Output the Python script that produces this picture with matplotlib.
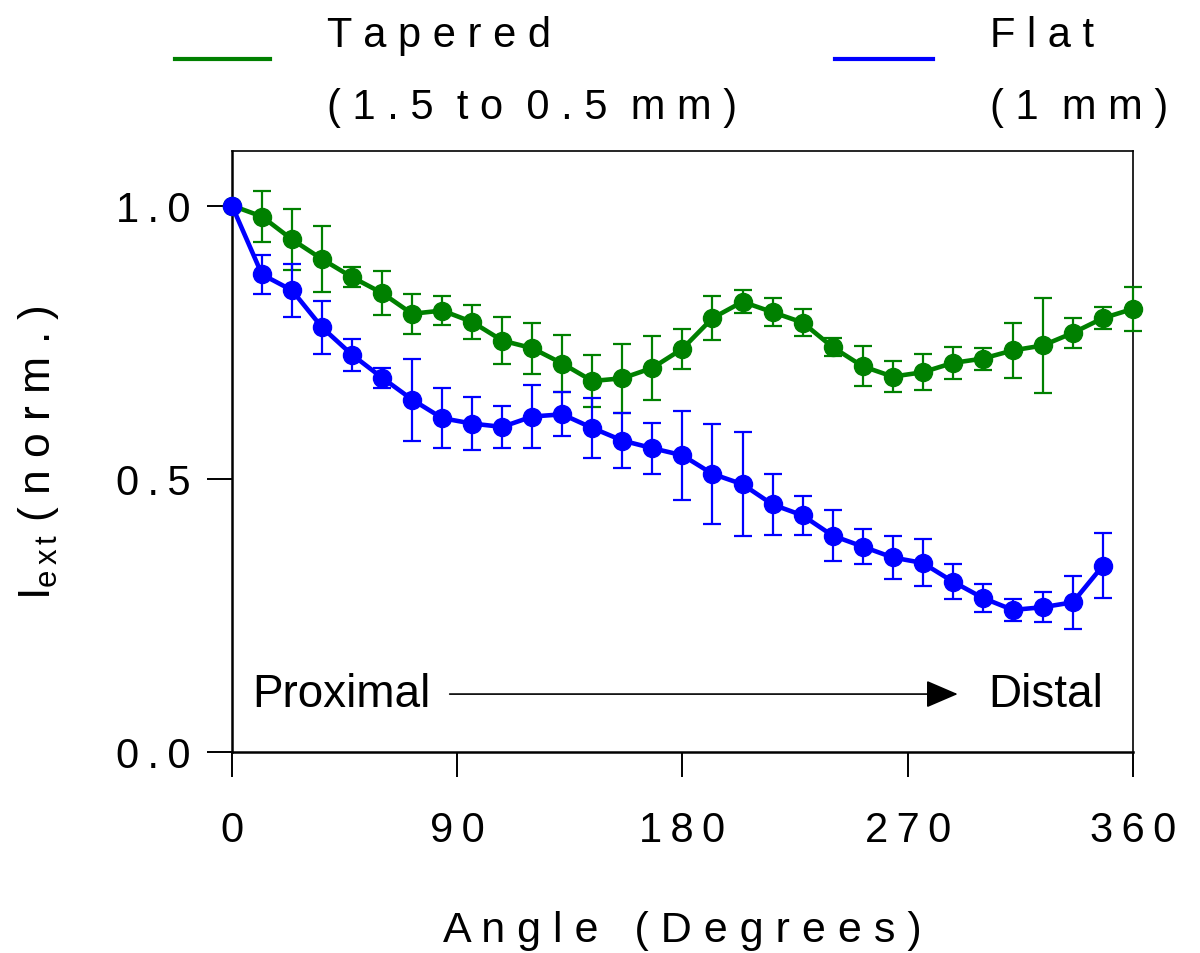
"""
Normalised extinction intensity vs angle for tapered and flat fibres.
"""
import matplotlib
matplotlib.use("Agg")
import matplotlib.pyplot as plt
from matplotlib.lines import Line2D

plt.rcParams['font.family'] = ['Liberation Sans', 'DejaVu Sans']
plt.rcParams['mathtext.default'] = 'regular'

GREEN = '#008000'
BLUE = '#0000FF'

# ---- data ----
tapered_angle = [0, 12, 24, 36, 48, 60, 72, 84, 96, 108, 120, 132, 144, 156, 168,
                 180, 192, 204, 216, 228, 240, 252, 264, 276, 288, 300, 312, 324,
                 336, 348, 360]
tapered_val = [1.000, 0.980, 0.938, 0.902, 0.869, 0.840, 0.802, 0.808, 0.787, 0.753,
               0.739, 0.711, 0.679, 0.684, 0.703, 0.738, 0.794, 0.824, 0.805, 0.786,
               0.741, 0.706, 0.687, 0.695, 0.712, 0.720, 0.735, 0.744, 0.767, 0.794,
               0.811]
tapered_err = [0.000, 0.046, 0.056, 0.060, 0.018, 0.040, 0.037, 0.026, 0.032, 0.043,
               0.047, 0.052, 0.048, 0.063, 0.058, 0.037, 0.040, 0.021, 0.025, 0.024,
               0.017, 0.037, 0.029, 0.033, 0.030, 0.020, 0.051, 0.087, 0.027, 0.020,
               0.040]

flat_angle = [0, 12, 24, 36, 48, 60, 72, 84, 96, 108, 120, 132, 144, 156, 168,
              180, 192, 204, 216, 228, 240, 252, 264, 276, 288, 300, 312, 324,
              336, 348]
flat_val = [1.000, 0.874, 0.845, 0.777, 0.727, 0.685, 0.645, 0.611, 0.601, 0.595,
            0.614, 0.618, 0.593, 0.570, 0.556, 0.543, 0.509, 0.490, 0.453, 0.433,
            0.396, 0.376, 0.356, 0.346, 0.312, 0.282, 0.260, 0.265, 0.274, 0.341]
flat_err = [0.000, 0.035, 0.048, 0.049, 0.029, 0.018, 0.075, 0.055, 0.048, 0.039,
            0.057, 0.040, 0.055, 0.051, 0.047, 0.081, 0.091, 0.095, 0.055, 0.036,
            0.046, 0.032, 0.039, 0.043, 0.032, 0.026, 0.020, 0.028, 0.048, 0.060]

x_ticks = [0, 90, 180, 270, 360]
x_tick_labels = ['0', '90', '180', '270', '360']
y_ticks = [0.0, 0.5, 1.0]
y_tick_labels = ['0.0', '0.5', '1.0']

tapered_label = ['Tapered', '(1.5 to 0.5 mm)']
flat_label = ['Flat', '(1 mm)']


def spaced(s, sep=' ', word_sep='  '):
    """Mimic the wide letter tracking of the original figure."""
    return word_sep.join(sep.join(w) for w in s.split(' '))


W, H = 1200, 954
fig = plt.figure(figsize=(W / 100, H / 100), dpi=100)
ax = fig.add_axes([0.1933, 0.2107, 0.7508, 0.63])

common = dict(marker='o', markersize=13, linewidth=3.3, capsize=6.5,
              elinewidth=1.6, capthick=1.6, clip_on=False, zorder=3)
ax.errorbar(tapered_angle, tapered_val, yerr=tapered_err, color=GREEN, **common)
ax.errorbar(flat_angle, flat_val, yerr=flat_err, color=BLUE, **common)

ax.set_xlim(0, 360)
ax.set_ylim(0, 1.1)
ax.set_xticks(x_ticks)
ax.set_xticklabels([spaced(t, '\u2009') for t in x_tick_labels])
ax.set_yticks(y_ticks)
ax.set_yticklabels([spaced(t, '\u2009') for t in y_tick_labels])
ax.tick_params(direction='out', length=18, width=1.4, labelsize=30,
               top=False, right=False)
ax.tick_params(axis='x', pad=24)
ax.tick_params(axis='y', pad=12)

for side in ['left', 'bottom']:
    ax.spines[side].set_linewidth(1.8)
for side in ['top', 'right']:
    ax.spines[side].set_linewidth(1.2)

ax.set_xlabel(spaced('Angle (Degrees)', word_sep='   '), fontsize=31)
ax.xaxis.set_label_coords(0.5, -0.263)
ax.set_ylabel(r'I$_{e\,x\,t}$ ( n o r m . )', fontsize=32)
ax.yaxis.set_label_coords(-0.19, 0.5)

# Proximal -> Distal annotation
ax.text(8, 0.106, 'Proximal', fontsize=33, va='center', ha='left')
ax.text(302, 0.106, 'Distal', fontsize=33, va='center', ha='left')
ax.annotate('', xy=(290, 0.106), xytext=(87, 0.106),
            arrowprops=dict(arrowstyle='-|>,head_length=1.0,head_width=0.43',
                            color='black', lw=1.2,
                            mutation_scale=20, shrinkA=0, shrinkB=0))

# legend above the axes, laid out by hand
for (x0, x1, xt), color, lab in [((175, 270, 327), GREEN, tapered_label),
                                 ((835, 933, 990), BLUE, flat_label)]:
    fig.add_artist(Line2D([x0 / W, x1 / W], [1 - 60 / H] * 2,
                          transform=fig.transFigure, color=color, lw=3))
    fig.text(xt / W, 1 - 47 / H, spaced(lab[0]), fontsize=30, va='baseline')
    fig.text(xt / W, 1 - 119 / H, spaced(lab[1]), fontsize=30, va='baseline')

fig.savefig('out.png', dpi=100)
